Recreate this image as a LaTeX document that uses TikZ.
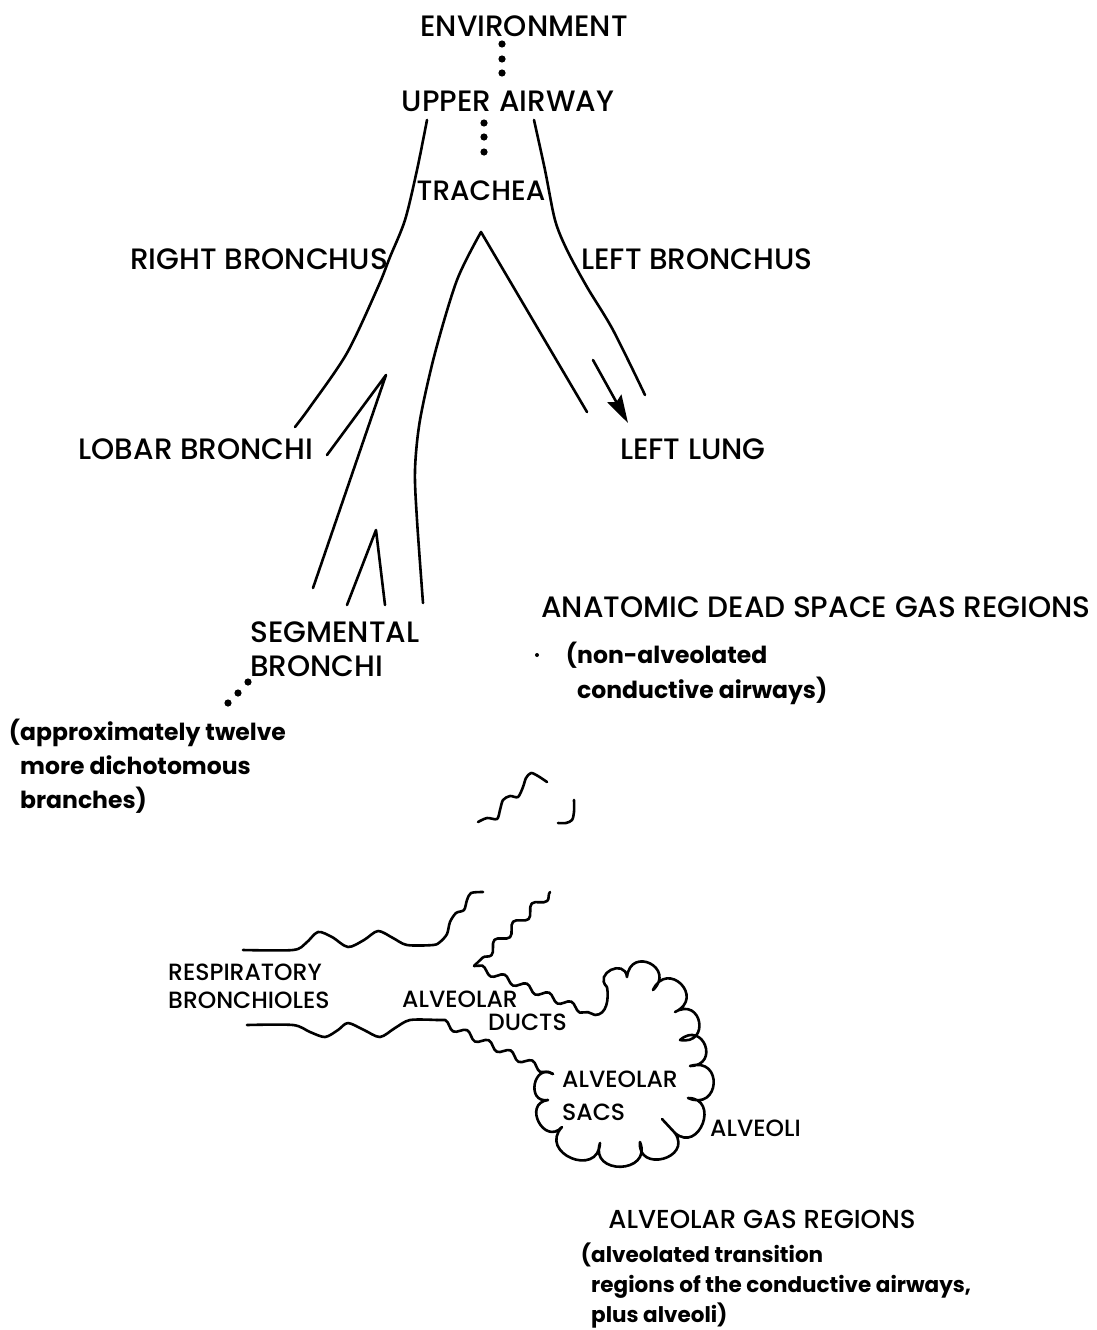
\documentclass[tikz,border=0pt]{standalone}
\usepackage{fontspec}
\setmainfont{Poppins}
\newfontfamily\medfont{Poppins Medium}
\usetikzlibrary{arrows.meta,decorations.pathmorphing}

\begin{document}
\begin{tikzpicture}[x=1pt, y=-1pt,
  airway/.style={line width=2.6pt, line cap=round, line join=round},
  wavy/.style={decorate, decoration={snake, amplitude=4.5pt, segment length=26pt}},
  lobe/.style={bend left=110, looseness=2.2},
  biglobe/.style={bend left=110, looseness=2.8},
  bigcap/.style={font=\medfont\fontsize{29.5}{34}\selectfont, inner sep=0pt, align=left},
  smallcap/.style={font=\medfont\fontsize{23.5}{28}\selectfont, inner sep=0pt, align=left},
  note/.style={font=\bfseries\fontsize{23.5}{34}\selectfont, inner sep=0pt, align=left}]
  \useasboundingbox (0,0) rectangle (1097,1330);

  \node[bigcap] (env) at (524,26) {ENVIRONMENT};
  \node[bigcap] (upper) at (508,101) {UPPER AIRWAY};
  \node[bigcap, font=\medfont\fontsize{28}{34}\selectfont] (trachea) at (481,191) {TRACHEA};
  \node[bigcap] (rbronchus) at (259,259) {RIGHT BRONCHUS};
  \node[bigcap] (lbronchus) at (697,259) {LEFT BRONCHUS};
  \node[bigcap] (lobar) at (196,449) {LOBAR BRONCHI};
  \node[bigcap] (llung) at (693,449) {LEFT LUNG};
  \node[bigcap, anchor=base west] (segmental) at (250,676) {SEGMENTAL\\BRONCHI};
  \node[note, anchor=base west] (branches) at (20,808)
    {\llap{(}approximately twelve\\more dichotomous\\branches)};
  \node[bigcap] (deadspace) at (816,607) {ANATOMIC DEAD SPACE GAS REGIONS};
  \node[note, anchor=base west, font=\bfseries\fontsize{23.5}{35}\selectfont]
    (conductive) at (577,698) {\llap{(}non-alveolated\\conductive airways)};

  \node[smallcap, anchor=base west] (resp) at (168,1008) {RESPIRATORY\\BRONCHIOLES};
  \node[smallcap, anchor=base west] (ducts) at (402,1030)
    {ALVEOLAR\\[-5pt]\hspace*{86pt}DUCTS};
  \node[smallcap, anchor=base west] (sacs) at (562,1120) {ALVEOLAR\\[5pt]SACS};
  \node[smallcap, anchor=base west] (alveoli) at (710,1136) {ALVEOLI};
  \node[bigcap, font=\medfont\fontsize{26}{34}\selectfont] (alvgas) at (762,1219)
    {ALVEOLAR GAS REGIONS};
  \node[note, anchor=base west, font=\bfseries\fontsize{21.5}{30}\selectfont]
    (transition) at (591,1322)
    {\llap{(}alveolated transition\\regions of the conductive airways,\\plus alveoli)};

  % dotted links
  \foreach \y in {44,59,73} \fill (502,\y) circle (3.6pt);
  \foreach \y in {123,137,152} \fill (484,\y) circle (3.6pt);
  \foreach \x/\y in {248/682,238/693,228/703} \fill (\x,\y) circle (3.6pt);
  \fill (537,655) circle (2pt);

  % trachea and bronchi
  \draw[airway] plot[smooth] coordinates {(427,120) (417,170) (405,220) (390,257)
    (378,287) (347,353) (310,407) (295,427)};
  \draw[airway] plot[smooth] coordinates {(534,120) (545,170) (555,220) (567,250)
    (587,287) (613,330) (645,395)};
  \draw[airway] plot[smooth] coordinates {(423,603) (417,520) (415,470) (420,420)
    (435,353) (457,280) (481,232)} -- (587,412);
  \draw[airway] (327,455) -- (386,375) -- (313,588);
  \draw[airway] (347,605) -- (376,530) -- (385,605);
  \coordinate (flow) at (593,360);
  \coordinate (lung) at (628,423);
  \draw[airway, -{Stealth[length=28pt, width=16pt, inset=4pt]}] (flow) -- (lung);

  % cut airway ends
  \draw[airway] plot[smooth] coordinates {(478,822) (487,818) (497,819) (500,810)
    (503,800) (510,796) (518,797) (523,787) (526,778) (531,773) (538,776) (547,782)};
  \draw[airway] plot[smooth] coordinates {(558,823) (566,823) (572,820) (574,812) (574,800)};

  % bronchioles and ducts
  \coordinate (ductend) at (595,1015);
  \coordinate (sacin) at (607,987);
  \coordinate (sacout) at (553,1074);
  \draw[airway] plot[smooth] coordinates {(243,950) (293,950) (306,943) (318,932)
    (332,937) (348,947) (364,940) (378,931) (393,938) (407,945) (433,945) (440,942)
    (447,934) (450,922) (456,913) (464,910) (467,900) (471,893) (483,892)};
  \draw[airway] plot[smooth] coordinates {(247,1025) (293,1025) (310,1032) (325,1037)
    (338,1030) (348,1023) (364,1030) (380,1037) (395,1028) (410,1020) (437,1020)};
  \draw[airway, wavy, decoration={amplitude=3.5pt, segment length=24pt}]
    (437,1020) -- (sacout);
  \draw[airway, wavy] (550,892) -- (474,966);
  \draw[airway, wavy, decoration={amplitude=3.5pt, segment length=24pt}]
    (474,966) -- (ductend);
  \draw[airway] (ductend) to[out=0, in=-80] (sacin);

  % alveolar sac
  \draw[airway] (sacin) to[lobe] (627,977) to[biglobe] (653,990) to[biglobe] (675,1012)
    to[biglobe] (680,1040) to[biglobe] (690,1066) to[biglobe] (688,1098) to[lobe] (675,1133)
    to[lobe] (640,1142) to[lobe] (600,1143) to[lobe] (562,1127) to[lobe] (548,1100)
    to[lobe] (sacout);
  \draw[airway] (675,1133) -- (662,1119);
\end{tikzpicture}
\end{document}
